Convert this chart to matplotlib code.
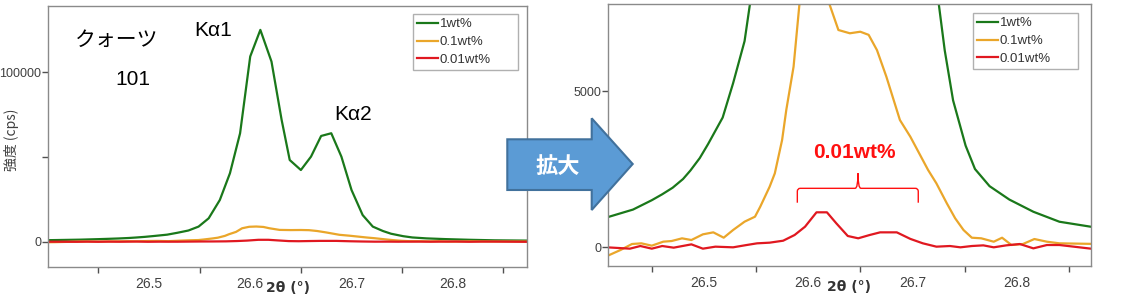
import matplotlib
matplotlib.use("Agg")
import matplotlib.pyplot as plt
from matplotlib.patches import Polygon, PathPatch
from matplotlib.path import Path
from matplotlib.ticker import FixedLocator, NullFormatter

# ---------------- data ----------------
series_labels = ["1wt%", "0.1wt%", "0.01wt%"]

green_x = [26.401, 26.408, 26.432, 26.450, 26.460, 26.470, 26.480, 26.487, 26.496, 26.504,
           26.518, 26.528, 26.539, 26.549, 26.559, 26.570, 26.580, 26.590, 26.600,
           26.610, 26.621, 26.631, 26.639, 26.650, 26.660, 26.670, 26.680, 26.690,
           26.700, 26.711, 26.721, 26.731, 26.739, 26.751, 26.760, 26.774, 26.793,
           26.816, 26.841, 26.873]
green_y = [900, 960, 1200, 1500, 1690, 1900, 2180, 2450, 2850, 3300,
           4150, 5250, 6600, 8900, 13800, 24600, 40400, 64000, 109300,
           125000, 106300, 71900, 48200, 42300, 50200, 62400, 64000, 50200,
           30500, 15700, 8900, 6300, 4700, 3250, 2500, 1950, 1520,
           1130, 810, 640]

orange_x = [26.401, 26.407, 26.420, 26.431, 26.440, 26.450, 26.461, 26.469, 26.479,
            26.488, 26.499, 26.509, 26.519, 26.528, 26.539, 26.549, 26.554, 26.563,
            26.568, 26.575, 26.579, 26.586, 26.592, 26.599, 26.606, 26.613, 26.619,
            26.629, 26.640, 26.650, 26.658, 26.666, 26.675, 26.688, 26.698, 26.715,
            26.723, 26.733, 26.741, 26.749, 26.757, 26.766, 26.778, 26.786, 26.795,
            26.806, 26.817, 26.829, 26.841, 26.873]
orange_y = [-330, -290, -96, 96, 118, 43, 171, 192, 278,
            224, 406, 470, 299, 545, 812, 972, 1290, 1930,
            2360, 3430, 4390, 5780, 7920, 8800, 8950, 8700, 7920,
            6955, 6850, 6900, 6800, 6310, 5460, 4070, 3535, 2470,
            2040, 1400, 920, 545, 298, 279, 170, 298, 64,
            96, 256, 170, 118, 100]

red_x = [26.401, 26.407, 26.429, 26.439, 26.450, 26.460, 26.471, 26.488, 26.499,
         26.511, 26.528, 26.541, 26.551, 26.563, 26.576, 26.587, 26.597, 26.608,
         26.618, 26.627, 26.638, 26.648, 26.659, 26.669, 26.685, 26.698, 26.710,
         26.723, 26.736, 26.746, 26.757, 26.768, 26.778, 26.790, 26.803, 26.816,
         26.829, 26.841, 26.855, 26.873]
red_y = [-10, -10, -53, 32, -53, 32, -21, 85, -53,
         11, -10, 64, 118, 139, 202, 385, 651, 1112,
         1112, 759, 353, 279, 385, 470, 470, 260, 118,
         11, 32, -10, 32, 53, -10, 53, 96, -43,
         64, 64, 10, -60]

x_labels = ["26.5", "26.6", "26.7", "26.8"]
x_label_pos = [26.5, 26.6, 26.7, 26.8]
x_minor_pos = [26.45, 26.55, 26.65, 26.75, 26.85]

colors = ["#1a781a", "#eaa62a", "#e01820"]

# ---------------- figure ----------------
W, H = 1135, 295
fig = plt.figure(figsize=(W / 100, H / 100), dpi=100)
PT = 72 / 100  # points per pixel


def px_rect(l, t, r, b):
    return [l / W, 1 - b / H, (r - l) / W, (b - t) / H]


ax1 = fig.add_axes(px_rect(48.2, 6, 527.1, 266.7))
ax2 = fig.add_axes(px_rect(608, 4.3, 1090.7, 265.7))

tick_font = "Liberation Sans"
cjk = ["Noto Sans CJK JP", "DejaVu Sans"]

for ax, xlim, ylim, yticks, yminor in [
    (ax1, (26.4006, 26.8733), (-14760, 139100), [0, 100000], [50000]),
    (ax2, (26.408, 26.871), (-599, 7779), [0, 5000], []),
]:
    for xs, ys, c, lab in zip([green_x, orange_x, red_x], [green_y, orange_y, red_y],
                              colors, series_labels):
        ax.plot(xs, ys, color=c, lw=1.6, label=lab, solid_joinstyle="round")
    ax.set_xlim(*xlim)
    ax.set_ylim(*ylim)
    ax.xaxis.set_major_locator(FixedLocator(x_label_pos))
    ax.set_xticklabels(x_labels)
    ax.xaxis.set_minor_locator(FixedLocator(x_minor_pos))
    ax.xaxis.set_minor_formatter(NullFormatter())
    ax.tick_params(axis="x", which="major", length=0, pad=10 * PT, labelsize=10,
                   labelcolor="#404040")
    ax.tick_params(axis="x", which="minor", length=6.2 * PT, width=1, color="#505050",
                   direction="out")
    ax.yaxis.set_major_locator(FixedLocator(yticks))
    ax.yaxis.set_minor_locator(FixedLocator(yminor))
    ax.yaxis.set_minor_formatter(NullFormatter())
    ax.tick_params(axis="y", which="both", length=5.7 * PT, width=1, color="#505050",
                   direction="out", pad=1 * PT, labelsize=9, labelcolor="#404040")
    for lbl in ax.get_xticklabels() + ax.get_yticklabels():
        lbl.set_fontfamily(tick_font)
    for s in ax.spines.values():
        s.set_color("#8a8a8a")
        s.set_linewidth(1.0)
    ax.text(0.5, -0.08, "2θ (°)", transform=ax.transAxes, ha="center", va="center",
            fontsize=10, fontweight="bold", color="#333333", family="DejaVu Sans")

# legends
leg_kw = dict(loc="upper left", mode="expand", borderaxespad=0, fancybox=False,
              framealpha=1, edgecolor="#b0b0b0", prop={"family": tick_font, "size": 9.5},
              handlelength=1.6, handletextpad=0.1, labelspacing=0.42, borderpad=0.3)
leg1 = ax1.legend(bbox_to_anchor=((413.3 - 48.2) / 478.9, 1 - (14.3 - 6) / 260.7,
                                  105 / 478.9, 0), **leg_kw)
leg2 = ax2.legend(bbox_to_anchor=((973.3 - 608) / 482.7, 1 - (13.3 - 4.3) / 261.4,
                                  104.4 / 482.7, 0), **leg_kw)
for leg in (leg1, leg2):
    leg.get_frame().set_linewidth(1.0)
    for t in leg.get_texts():
        t.set_color("#333333")


def fpx(x, y):
    return x / W, 1 - y / H


# y label left
fig.text(*fpx(11.6, 140), "強度 (cps)", rotation=90, ha="center", va="center",
         fontsize=10, color="#404040", family=cjk)

# annotations left
fig.text(*fpx(116.5, 40), "クォーツ", ha="center", va="center", fontsize=15, color="black",
         family=cjk)
fig.text(*fpx(132.5, 79.5), "101", ha="center", va="center", fontsize=15, color="black",
         family="Liberation Sans")
fig.text(*fpx(212.7, 31), "Kα1", ha="center", va="center", fontsize=15, color="black",
         family="Liberation Sans")
fig.text(*fpx(353, 114), "Kα2", ha="center", va="center", fontsize=15, color="black",
         family="Liberation Sans")

# annotations right
fig.text(*fpx(854.3, 152.5), "0.01wt%", ha="center", va="center", fontsize=15,
         fontweight="bold", color="#ff1010", family="Liberation Sans")

# brace (data coordinates on ax2)
xl, xr, xc = 26.5896, 26.7056, 26.6478
yb, yh, yt = 1420, 1881, 2362
rx, ry = 0.0028, 100
verts = [(xl, yb), (xl, yh - ry), (xl, yh), (xl + rx, yh),
         (xc - rx, yh), (xc, yh), (xc, yt),
         (xc, yh), (xc + rx, yh),
         (xr - rx, yh), (xr, yh), (xr, yh - ry), (xr, yb)]
codes = [Path.MOVETO, Path.LINETO, Path.CURVE3, Path.CURVE3,
         Path.LINETO, Path.CURVE3, Path.CURVE3,
         Path.CURVE3, Path.CURVE3,
         Path.LINETO, Path.CURVE3, Path.CURVE3, Path.LINETO]
ax2.add_patch(PathPatch(Path(verts, codes), facecolor="none", edgecolor="#ff1010", lw=1.0))

# big arrow
arrow_px = [(507.3, 139.3), (591.7, 139.3), (591.7, 118.3), (632.7, 164), (591.7, 210),
            (591.7, 190), (507.3, 190)]
arrow = Polygon([fpx(x, y) for x, y in arrow_px], closed=True, transform=fig.transFigure,
                facecolor="#5b9bd5", edgecolor="#41719c", lw=1.5, zorder=10)
fig.add_artist(arrow)
fig.text(*fpx(558.3, 166.7), "拡大", ha="center", va="center", fontsize=16,
         fontweight="bold", color="white", family=cjk, zorder=11)

fig.savefig("out.png", dpi=100)
